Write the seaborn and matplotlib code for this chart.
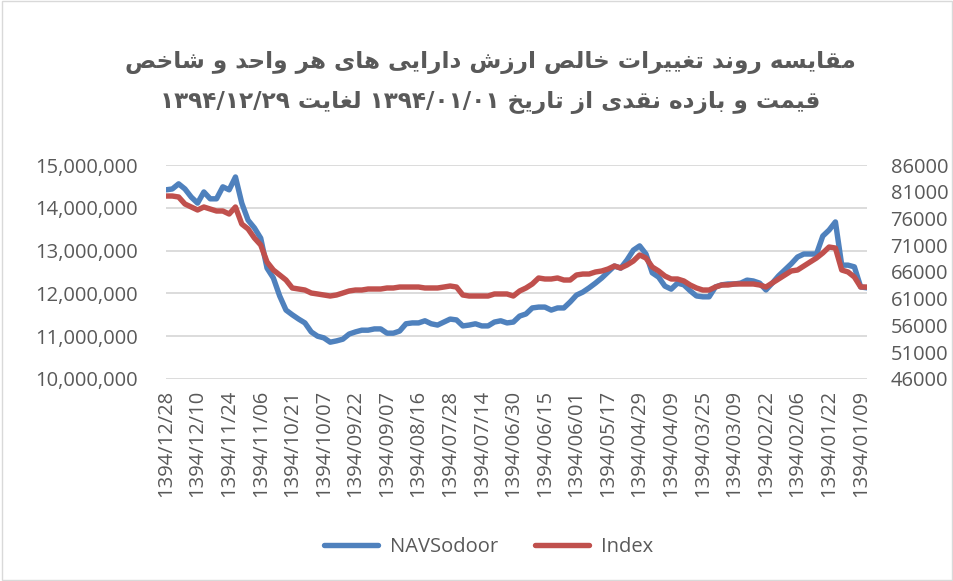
"""
NAV vs. index comparison chart (Excel-style, dual y axis).
"""

import unicodedata
import numpy as np
import pandas as pd
import matplotlib
matplotlib.use("Agg")
import matplotlib.pyplot as plt
import matplotlib.ticker as mticker
from matplotlib.patches import Rectangle
import seaborn as sns

# --- data (newest date on the left) ---
tick_dates = [
    "1394/12/28", "1394/12/10", "1394/11/24", "1394/11/06", "1394/10/21",
    "1394/10/07", "1394/09/22", "1394/09/07", "1394/08/16", "1394/07/28",
    "1394/07/14", "1394/06/30", "1394/06/15", "1394/06/01", "1394/05/17",
    "1394/04/29", "1394/04/09", "1394/03/25", "1394/03/09", "1394/02/22",
    "1394/02/06", "1394/01/22", "1394/01/09",
]

# NAV per unit, millions of rials
nav_sodoor_m = [
    14.42, 14.44, 14.56, 14.44, 14.25, 14.11, 14.37, 14.21, 14.21, 14.49,
    14.42, 14.72, 14.11, 13.71, 13.53, 13.29, 12.59, 12.36, 11.94, 11.61,
    11.50, 11.40, 11.31, 11.10, 11.00, 10.96, 10.86, 10.89, 10.93, 11.05,
    11.10, 11.14, 11.14, 11.17, 11.17, 11.07, 11.07, 11.12, 11.29, 11.31,
    11.31, 11.36, 11.29, 11.26, 11.33, 11.40, 11.38, 11.24, 11.26, 11.29,
    11.24, 11.24, 11.33, 11.36, 11.31, 11.33, 11.47, 11.52, 11.66, 11.68,
    11.68, 11.61, 11.66, 11.66, 11.80, 11.96, 12.03, 12.13, 12.24, 12.36,
    12.50, 12.64, 12.59, 12.78, 13.01, 13.11, 12.92, 12.48, 12.38, 12.17,
    12.10, 12.24, 12.20, 12.06, 11.94, 11.92, 11.92, 12.15, 12.20, 12.22,
    12.22, 12.24, 12.31, 12.29, 12.24, 12.08, 12.24, 12.41, 12.55, 12.69,
    12.85, 12.92, 12.92, 12.92, 13.34, 13.48, 13.67, 12.66, 12.66, 12.62,
    12.15, 12.13,
]

index_values = [
    80200, 80200, 80020, 78710, 78150, 77590, 78150, 77770, 77400, 77400,
    76840, 78150, 74970, 74040, 72350, 71050, 67870, 66370, 65440, 64500,
    63010, 62820, 62630, 62070, 61890, 61700, 61510, 61700, 62070, 62450,
    62630, 62630, 62820, 62820, 62820, 63010, 63010, 63190, 63190, 63190,
    63190, 63010, 63010, 63010, 63190, 63380, 63190, 61700, 61510, 61510,
    61510, 61510, 61890, 61890, 61890, 61510, 62450, 63010, 63760, 64880,
    64690, 64690, 64880, 64500, 64500, 65440, 65620, 65620, 66000, 66190,
    66560, 67120, 66750, 67310, 68050, 69180, 68610, 66930, 66190, 65250,
    64690, 64690, 64320, 63570, 63010, 62630, 62630, 63190, 63570, 63570,
    63760, 63760, 63760, 63760, 63570, 63190, 63940, 64690, 65440, 66190,
    66370, 67120, 67870, 68610, 69550, 70670, 70480, 66370, 66000, 65060,
    63190, 63190,
]

title_lines = [
    "مقایسه روند تغییرات خالص ارزش دارایی های هر واحد و شاخص",
    "قیمت و بازده نقدی از تاریخ ۱۳۹۴/۰۱/۰۱ لغایت ۱۳۹۴/۱۲/۲۹",
]

BLUE = "#4F81BD"
RED = "#C0504D"
GREY_TEXT = "#595959"
GRID = "#D9D9D9"

# letters that never join to the following letter
NON_JOINING_NEXT = set("اآأإدذرزژوؤء")


def is_arabic_letter(ch):
    return "\u0620" <= ch <= "\u06FF" and not ("\u06F0" <= ch <= "\u06F9")


def contextual_form(ch, form):
    """Presentation form of a letter (ISOLATED/FINAL/INITIAL/MEDIAL)."""
    name = unicodedata.name(ch)
    if ch == "\u06CC":  # Farsi yeh
        name = "ARABIC LETTER YEH" if form in ("INITIAL", "MEDIAL") else "ARABIC LETTER ALEF MAKSURA"
    try:
        return unicodedata.lookup("{} {} FORM".format(name, form))
    except KeyError:
        return ch


def shape_word(word):
    out = []
    for k, ch in enumerate(word):
        if not is_arabic_letter(ch):
            out.append(ch)
            continue
        prev = word[k - 1] if k > 0 else ""
        nxt = word[k + 1] if k + 1 < len(word) else ""
        join_prev = bool(prev) and is_arabic_letter(prev) and prev not in NON_JOINING_NEXT
        join_next = bool(nxt) and is_arabic_letter(nxt) and ch not in NON_JOINING_NEXT
        if join_prev and join_next:
            form = "MEDIAL"
        elif join_prev:
            form = "FINAL"
        elif join_next:
            form = "INITIAL"
        else:
            form = "ISOLATED"
        out.append(contextual_form(ch, form))
    return "".join(out)


def to_visual(line):
    """Very small bidi: reverse word order, reverse letters of Persian words."""
    words = []
    for w in line.split(" "):
        if any(is_arabic_letter(c) for c in w):
            words.append(shape_word(w)[::-1])
        else:
            words.append(w)
    return " ".join(words[::-1])


def main():
    sns.set_style("white")
    plt.rcParams["font.family"] = ["Open Sans", "DejaVu Sans"]

    df = pd.DataFrame({
        "pos": np.arange(len(nav_sodoor_m)),
        "NAVSodoor": np.array(nav_sodoor_m) * 1e6,
        "Index": index_values,
    })

    fig = plt.figure(figsize=(9.54, 5.81), dpi=100)
    ax = fig.add_axes([0.174, 0.3477, 0.7348, 0.3683])
    ax2 = ax.twinx()

    sns.lineplot(data=df, x="pos", y="NAVSodoor", ax=ax, color=BLUE, lw=3.9,
                 label="NAVSodoor", legend=False)
    sns.lineplot(data=df, x="pos", y="Index", ax=ax2, color=RED, lw=3.9,
                 label="Index", legend=False)

    ax.set_xlim(0, len(df) - 1)
    ax.set_ylim(10_000_000, 15_000_000)
    ax.yaxis.set_major_locator(mticker.MultipleLocator(1_000_000))
    ax.yaxis.set_major_formatter(mticker.StrMethodFormatter("{x:,.0f}"))
    ax2.set_ylim(46000, 86000)
    ax2.set_yticks(np.arange(46000, 86001, 5000))

    ax.set_xticks(np.arange(0, len(df), 5))
    ax.set_xticklabels(tick_dates, rotation=90)

    ax.grid(axis="y", color=GRID, lw=1.3)
    ax.grid(axis="x", visible=False)
    ax2.grid(False)
    for a in (ax, ax2):
        for s in a.spines.values():
            s.set_visible(False)
        a.set_xlabel("")
        a.set_ylabel("")
        a.tick_params(length=0, colors=GREY_TEXT, labelsize=14.5)
    ax.tick_params(axis="y", pad=20)
    ax2.tick_params(axis="y", pad=17)
    ax.tick_params(axis="x", pad=8)

    # title (two lines, Persian)
    for y, line in zip((0.893, 0.823), title_lines):
        fig.text(0.514, y, to_visual(line), ha="center", va="center",
                 fontsize=16.7, fontweight="bold", color=GREY_TEXT, family=["DejaVu Sans"])

    # legend at the bottom
    h1, l1 = ax.get_legend_handles_labels()
    h2, l2 = ax2.get_legend_handles_labels()
    fig.legend(h1 + h2, l1 + l2, loc="center", bbox_to_anchor=(0.512, 0.058), ncol=2,
               frameon=False, fontsize=14.5, handlelength=2.7, columnspacing=1.8,
               handletextpad=0.6, labelcolor=GREY_TEXT)

    # chart-area border
    fig.patches.append(Rectangle((0.002, 0.002), 0.996, 0.996, transform=fig.transFigure,
                                 fill=False, edgecolor=GRID, lw=1.0))

    fig.savefig("out.png", dpi=100)
    plt.close(fig)
    print("[PLOT] saved out.png")


if __name__ == "__main__":
    main()
